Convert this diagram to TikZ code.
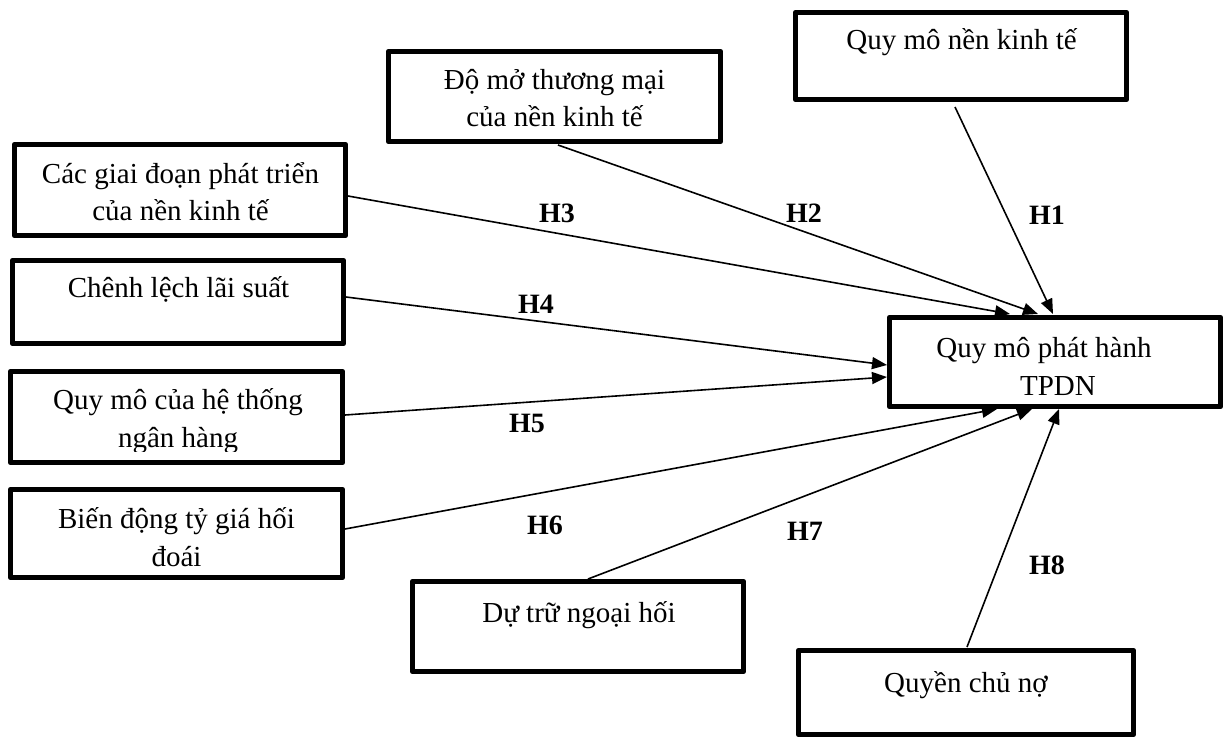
\documentclass[tikz,border=0pt]{standalone}
\usepackage{fontspec}
\setmainfont{Liberation Serif}
\usetikzlibrary{arrows.meta,calc}

\begin{document}
\begin{tikzpicture}[x=1bp,y=-1bp,
  box/.style={draw,line width=4.8bp,inner sep=0pt,line join=round},
  txt/.style={font=\fontsize{29bp}{37bp}\selectfont,inner sep=0pt,anchor=base},
  hlabel/.style={font=\fontsize{28bp}{30bp}\selectfont\bfseries,inner sep=0pt,anchor=base},
  conn/.style={line width=1.6bp,-{Triangle[length=15bp,width=12bp]}}]

\useasboundingbox (0,0) rectangle (1225,738);

% factor boxes
\node[box,minimum width=331.5bp,minimum height=87.5bp] (b1) at (961,56) {};
\node[box,minimum width=332.5bp,minimum height=90.5bp] (b2) at (554.5,96.5) {};
\node[box,minimum width=331.5bp,minimum height=91.5bp] (b3) at (180,190) {};
\node[box,minimum width=331.5bp,minimum height=83.5bp] (b4) at (178,302) {};
\node[box,minimum width=332.5bp,minimum height=91.5bp] (b5) at (176.5,417) {};
\node[box,minimum width=332.5bp,minimum height=88.5bp] (b6) at (176.5,533.5) {};
\node[box,minimum width=331.5bp,minimum height=90.5bp] (b7) at (578,626.5) {};
\node[box,minimum width=335.5bp,minimum height=84.5bp] (b8) at (966,692.5) {};
% dependent variable
\node[box,minimum width=331.5bp,minimum height=89.5bp] (tgt) at (1055,362) {};

% box texts
\node[txt] (b1a) at (961.5,50) {Quy mô nền kinh tế};
\node[txt] (b2a) at (554.5,90) {Độ mở thương mại};
\node[txt] (b2b) at (554.5,126) {của nền kinh tế};
\node[txt] (b3a) at (180.5,183) {Các giai đoạn phát triển};
\node[txt] (b3b) at (180.5,220) {của nền kinh tế};
\node[txt] (b4a) at (178.5,297) {Chênh lệch lãi suất};
\node[txt] (b5a) at (178,409) {Quy mô của hệ thống};
% the second line overflows its box and is cut off at the text margin
\begin{scope}
  \clip ($(b5.north west)$) rectangle ($(b5.south east)+(0,-14)$);
  \node[txt] (b5b) at (178,447) {ngân hàng};
\end{scope}
\node[txt] (b6a) at (176.5,528) {Biến động tỷ giá hối};
\node[txt] (b6b) at (176.5,566) {đoái};
\node[txt] (b7a) at (579,622) {Dự trữ ngoại hối};
\node[txt] (b8a) at (966,692) {Quyền chủ nợ};
\node[txt] (tgta) at (1044,357) {Quy mô phát hành};
\node[txt] (tgtb) at (1058,395) {TPDN};

% connector ends
\coordinate (s1) at ($(b1)+(-6,51)$);
\coordinate (s2) at ($(b2)+(3.5,48.5)$);
\coordinate (s3) at ($(b3)+(168,6)$);
\coordinate (s4) at ($(b4)+(168,-5)$);
\coordinate (s5) at ($(b5)+(168.5,-2)$);
\coordinate (s6) at ($(b6)+(168.5,-4.5)$);
\coordinate (s7) at ($(b7)+(10,-47.5)$);
\coordinate (s8) at ($(b8)+(1,-45.5)$);

\coordinate (t1) at ($(tgt)+(-2,-48)$);
\coordinate (t2) at ($(tgt)+(-17,-48)$);
\coordinate (t3) at ($(tgt)+(-45,-48)$);
\coordinate (t4) at ($(tgt)+(-168,3)$);
\coordinate (t5) at ($(tgt)+(-168,15)$);
\coordinate (t6) at ($(tgt)+(-58,47)$);
\coordinate (t7) at ($(tgt)+(-23,47)$);
\coordinate (t8) at ($(tgt)+(4,47)$);

% hypotheses
\draw[conn] (s1) -- (t1);
\draw[conn] (s2) -- (t2);
\draw[conn] (s3) -- (t3);
\draw[conn] (s4) -- (t4);
\draw[conn] (s5) -- (t5);
\draw[conn] (s6) -- (t6);
\draw[conn] (s7) -- (t7);
\draw[conn] (s8) -- (t8);

\node[hlabel] (h1) at (1047,224) {H1};
\node[hlabel] (h2) at (804,222) {H2};
\node[hlabel] (h3) at (557,222) {H3};
\node[hlabel] (h4) at (536,313) {H4};
\node[hlabel] (h5) at (527,432) {H5};
\node[hlabel] (h6) at (545,534) {H6};
\node[hlabel] (h7) at (805,540) {H7};
\node[hlabel] (h8) at (1047,574) {H8};

\end{tikzpicture}
\end{document}
